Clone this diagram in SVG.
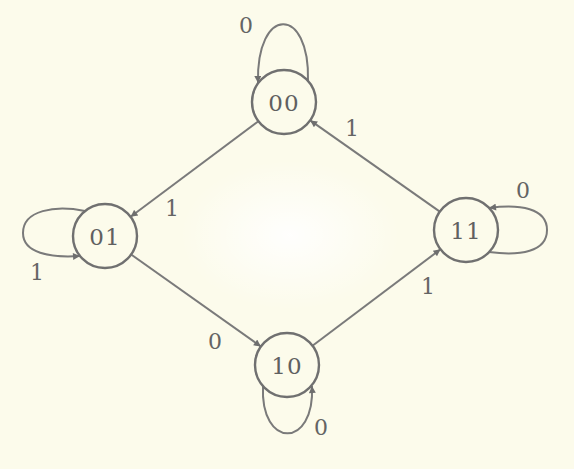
<svg xmlns="http://www.w3.org/2000/svg" width="574" height="469" viewBox="0 0 574 469">
<defs>
<marker id="arr" viewBox="0 0 10 10" refX="10" refY="5" markerWidth="9" markerHeight="7" markerUnits="userSpaceOnUse" orient="auto">
<path d="M0,0 L10,5 L0,10 z" fill="#6e6e6e"/>
</marker>
<radialGradient id="blob" cx="0.5" cy="0.5" r="0.5">
<stop offset="0" stop-color="#ffffff" stop-opacity="0.9"/>
<stop offset="1" stop-color="#ffffff" stop-opacity="0"/>
</radialGradient>
</defs>
<style>
.node{fill:none;stroke:#707070;stroke-width:2.4}
.edge{fill:none;stroke:#7a7a7a;stroke-width:2;marker-end:url(#arr)}
.nl{font-family:"DejaVu Serif","Liberation Serif",serif;font-size:23px;fill:#606060;text-anchor:middle;dominant-baseline:central;letter-spacing:1px}
.el{font-family:"DejaVu Serif","Liberation Serif",serif;font-size:22px;fill:#646464;text-anchor:middle;dominant-baseline:central}
</style>
<rect width="574" height="469" fill="#fcfbeb"/>
<ellipse cx="290" cy="235" rx="110" ry="75" fill="url(#blob)"/>
<g id="connectors">
<path class="edge" d="M258.4,121.2 L130.6,216.8"/>
<path class="edge" d="M131.1,254.5 L260.9,346.5"/>
<path class="edge" d="M312.5,345.7 L440.5,249.3"/>
<path class="edge" d="M439.8,211.6 L310.2,120.4"/>
<path class="edge" d="M308,81 C310,5 256,5 258,83"/>
<path class="edge" d="M85,211 C55,205 23,210 23,233 C23,253 50,258 80,256"/>
<path class="edge" d="M489,252 C520,256 547,252 547,230 C547,208 520,204 489,208"/>
<path class="edge" d="M263,386 C260,449 315,449 312,386"/>
<text class="el" x="246" y="25">0</text>
<text class="el" x="172" y="208">1</text>
<text class="el" x="352" y="128">1</text>
<text class="el" x="523" y="190">0</text>
<text class="el" x="37" y="272">1</text>
<text class="el" x="215" y="341">0</text>
<text class="el" x="428" y="286">1</text>
<text class="el" x="321" y="427">0</text>
</g>
<g id="n00"><circle class="node" cx="284" cy="102" r="32"/><text class="nl" x="284" y="103">00</text></g>
<g id="n01"><circle class="node" cx="105" cy="236" r="32"/><text class="nl" x="105" y="237">01</text></g>
<g id="n10"><circle class="node" cx="287" cy="365" r="32"/><text class="nl" x="287" y="366">10</text></g>
<g id="n11"><circle class="node" cx="466" cy="230" r="32"/><text class="nl" x="466" y="231">11</text></g>
</svg>
